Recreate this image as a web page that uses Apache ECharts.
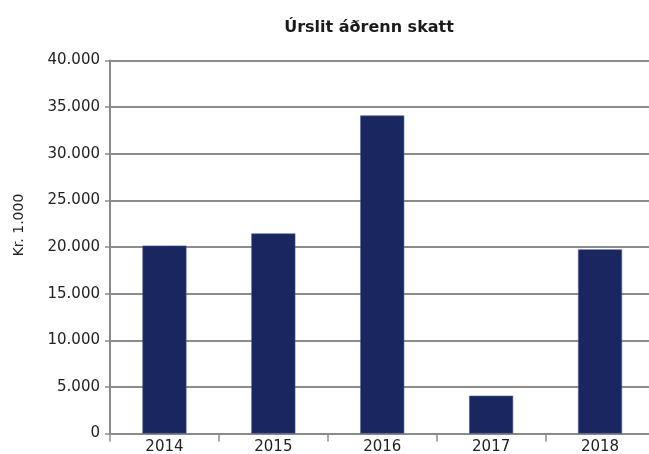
<!DOCTYPE html>
<html>
<head>
<meta charset="utf-8">
<script src="https://cdn.jsdelivr.net/npm/echarts@6/dist/echarts.min.js"></script>
<style>
html,body{margin:0;padding:0;background:#fff;}
#chart{width:649px;height:454px;}
</style>
</head>
<body>
<div id="chart"></div>
<script>
var categories = ['2014', '2015', '2016', '2017', '2018'];
var values = [20150, 21450, 34100, 4050, 19750];
var chartTitle = 'Úrslit áðrenn skatt';
var yName = 'Kr. 1.000';

var FONT = 'DejaVu Sans';
var chart = echarts.init(document.getElementById('chart'), null, {renderer: 'canvas'});
chart.setOption({
  animation: false,
  backgroundColor: '#ffffff',
  title: {
    text: chartTitle,
    left: 364,
    top: 15,
    textAlign: 'center',
    textStyle: {fontFamily: FONT, fontSize: 16, fontWeight: 'bold', color: '#1a1a1a'}
  },
  grid: {left: 110, right: -5.5, top: 60.5, bottom: 20.5, containLabel: false, outerBoundsMode: 'none'},
  xAxis: {
    type: 'category',
    data: categories,
    axisLine: {lineStyle: {color: '#8a8a8a', width: 2}},
    axisTick: {show: true, length: 8, lineStyle: {color: '#8a8a8a', width: 1.5}},
    axisLabel: {fontFamily: FONT, fontSize: 15, color: '#222', margin: 6},
    splitLine: {show: false}
  },
  yAxis: {
    type: 'value',
    min: 0,
    max: 40000,
    interval: 5000,
    name: yName,
    nameLocation: 'middle',
    nameRotate: 90,
    nameGap: 84,
    nameTextStyle: {fontFamily: FONT, fontSize: 14, color: '#222', padding: [0, 0, 0, 44]},
    axisLine: {show: true, lineStyle: {color: '#8a8a8a', width: 2}},
    axisTick: {show: true, length: 5, lineStyle: {color: '#8a8a8a', width: 1.5}},
    axisLabel: {
      fontFamily: FONT, fontSize: 15, color: '#222', margin: 10,
      formatter: function (v) {
        return String(v).replace(/\B(?=(\d{3})+(?!\d))/g, '.');
      }
    },
    splitLine: {show: true, lineStyle: {color: '#8c8c8c', width: 2}}
  },
  series: [{
    type: 'bar',
    data: values,
    barWidth: 44,
    itemStyle: {color: '#19265f', borderColor: '#4a5a90', borderWidth: 0.6}
  }]
});
</script>
</body>
</html>
